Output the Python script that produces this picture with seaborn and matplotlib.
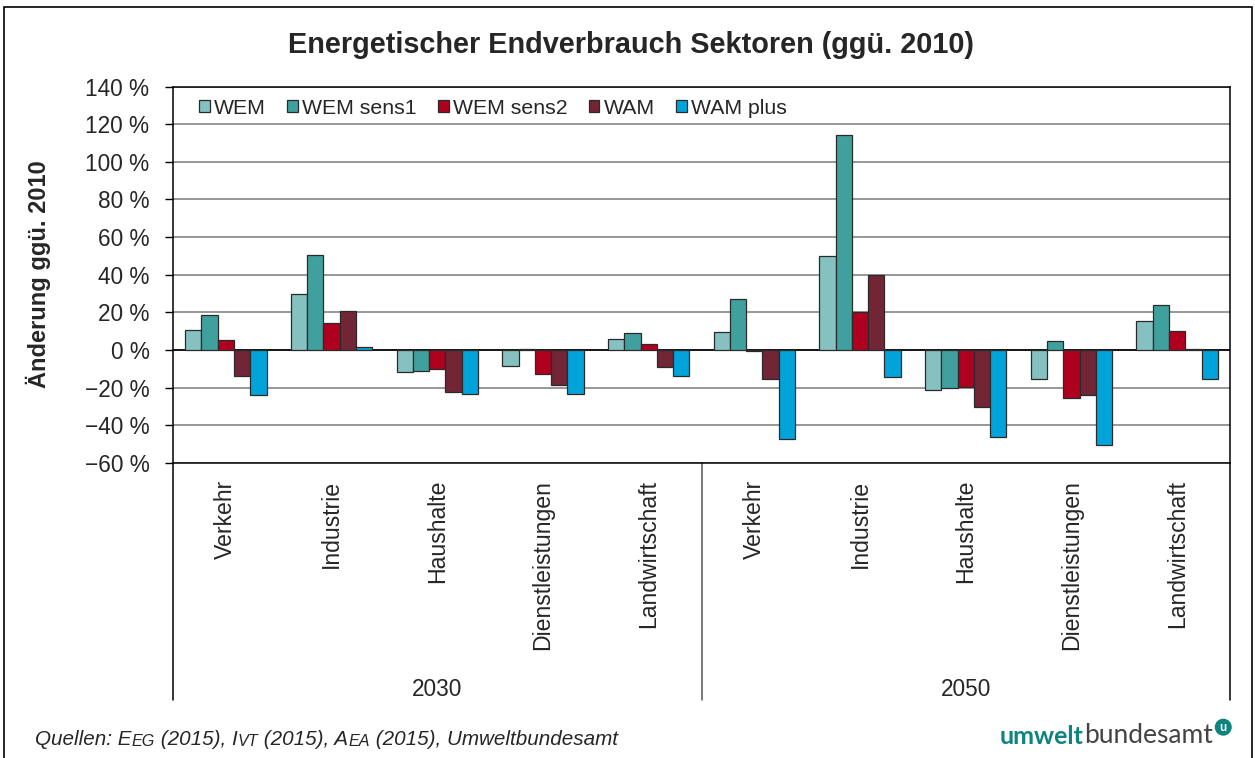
import numpy as np
import pandas as pd
import matplotlib
matplotlib.use("Agg")
import matplotlib.pyplot as plt
import matplotlib.transforms as mtransforms
from matplotlib.patches import Patch, Rectangle
import seaborn as sns

# ---------------- data ----------------
years = ["2030", "2050"]
sectors = ["Verkehr", "Industrie", "Haushalte", "Dienstleistungen", "Landwirtschaft"]
scenarios = ["WEM", "WEM sens1", "WEM sens2", "WAM", "WAM plus"]

wem_2030 = [10.8, 30.0, -11.7, -8.3, 5.8]
wem_sens1_2030 = [18.6, 50.4, -11.3, 0.3, 9.2]
wem_sens2_2030 = [5.3, 14.2, -10.3, -12.6, 3.4]
wam_2030 = [-14.0, 20.7, -22.1, -18.8, -9.0]
wam_plus_2030 = [-23.8, 1.6, -23.2, -23.2, -13.6]

wem_2050 = [9.6, 49.7, -21.2, -15.2, 15.6]
wem_sens1_2050 = [26.9, 114.5, -20.0, 4.6, 23.9]
wem_sens2_2050 = [-0.3, 20.0, -19.8, -25.5, 10.1]
wam_2050 = [-15.6, 40.0, -30.4, -24.1, 0.5]
wam_plus_2050 = [-47.1, -14.3, -46.0, -50.4, -15.4]

y_ticks = [-60, -40, -20, 0, 20, 40, 60, 80, 100, 120, 140]

colors = ["#85C1C0", "#40A09E", "#B00020", "#722535", "#00A4DB"]

# ---------------- frame ----------------
series_2030 = [wem_2030, wem_sens1_2030, wem_sens2_2030, wam_2030, wam_plus_2030]
series_2050 = [wem_2050, wem_sens1_2050, wem_sens2_2050, wam_2050, wam_plus_2050]
rows = []
for yr, series in zip(years, [series_2030, series_2050]):
    for scen, vals in zip(scenarios, series):
        for sec, v in zip(sectors, vals):
            rows.append({"cat": f"{yr} {sec}", "scenario": scen, "value": v})
df = pd.DataFrame(rows)
cat_order = [f"{yr} {sec}" for yr in years for sec in sectors]

sns.set_theme(style="white")
plt.rcParams["font.family"] = ["Liberation Sans", "DejaVu Sans"]

W, H = 1255, 758
fig = plt.figure(figsize=(W / 100, H / 100), dpi=100)
L, R, T, B = 173, 1230, 86.5, 463
ax = fig.add_axes([L / W, 1 - B / H, (R - L) / W, (B - T) / H])

sns.barplot(data=df, x="cat", y="value", hue="scenario", order=cat_order,
            hue_order=scenarios, palette=colors, width=0.77, saturation=1,
            edgecolor="#2a2a2a", linewidth=0.9, ax=ax, legend=False, zorder=2)

ax.set_ylim(-60, 140)
ax.set_xlim(-0.5, 9.5)
ax.set_yticks(y_ticks)
ax.set_yticklabels([f"{v} %".replace("-", "\u2212") for v in y_ticks], fontsize=16.3)
ax.set_xticks(range(len(cat_order)))
ax.set_xticklabels(sectors * 2, rotation=90, fontsize=16.6)
ax.tick_params(axis="x", length=0, pad=12)
ax.tick_params(axis="y", direction="out", length=6, width=1, color="black", pad=11, left=True)
ax.set_xlabel("")
ax.set_ylabel("")

ax.yaxis.grid(True, color="#858585", lw=1.2)
ax.set_axisbelow(True)
ax.axhline(0, color="black", lw=1.2, zorder=1)
for s in ax.spines.values():
    s.set_color("black")
    s.set_linewidth(1.1)

# category axis dividers and year labels
tr = mtransforms.blended_transform_factory(ax.transData, ax.transAxes)
ybot = -(700 - B) / (B - T)
for xv, col in [(-0.5, "black"), (4.5, "#555555"), (9.5, "black")]:
    ax.plot([xv, xv], [0, ybot], color=col, lw=1.1, transform=tr, clip_on=False)
yyear = -(689 - B) / (B - T)
ax.text(2, yyear, "2030", transform=tr, ha="center", va="center", fontsize=16.3)
ax.text(7, yyear, "2050", transform=tr, ha="center", va="center", fontsize=16.3)

# legend
handles = [Patch(facecolor=c, edgecolor="#2a2a2a", lw=0.9) for c in colors]
ax.legend(handles, scenarios, ncol=5, loc="center left",
          bbox_to_anchor=(0.025, 1 - (108 - T) / (B - T)), frameon=False,
          fontsize=15.3, handlelength=0.5, handleheight=0.5, handletextpad=0.2,
          columnspacing=1.0, borderpad=0, borderaxespad=0)

# titles
fig.text(631 / W, 1 - 45 / H, "Energetischer Endverbrauch Sektoren (ggü. 2010)",
         ha="center", va="center", fontsize=20.8, fontweight="bold")
fig.text(38 / W, 1 - 274 / H, "Änderung ggü. 2010", rotation=90,
         ha="center", va="center", fontsize=17, fontweight="bold")

# footer with small caps
pieces = [("Quellen: E", 14.9), ("EG", 11.6), (" (2015), I", 14.9), ("VT", 11.6),
          (" (2015), A", 14.9), ("EA", 11.6), (" (2015), Umweltbundesamt", 14.9)]
prev = fig.text(35 / W, 1 - 745 / H, pieces[0][0], fontsize=pieces[0][1],
                style="italic", ha="left", va="baseline")
for txt, fs in pieces[1:]:
    prev = ax.annotate(txt, xy=(1, 0), xycoords=prev, fontsize=fs, style="italic",
                       ha="left", va="bottom", annotation_clip=False)

# logo
teal = "#0E8480"
t1 = fig.text(1000 / W, 1 - 744 / H, "umwelt", fontsize=18, fontweight="bold",
              color=teal, family=["Lato", "DejaVu Sans"], ha="left", va="baseline")
t2 = ax.annotate("bundesamt", xy=(1, 0), xycoords=t1, fontsize=19, fontweight="normal",
                 color="#444444", family=["Lato", "DejaVu Sans"], ha="left", va="bottom",
                 annotation_clip=False)
ax.annotate("u", xy=(1, 1), xycoords=t2, xytext=(5, -3), textcoords="offset points",
            fontsize=9, fontweight="bold", color="white", ha="left", va="center",
            family=["Lato", "DejaVu Sans"], annotation_clip=False,
            bbox=dict(boxstyle="circle,pad=0.2", fc=teal, ec="none"))

# outer border
fig.patches.append(Rectangle((4 / W, -0.02), (1252 - 4) / W, 1 - 7 / H + 0.02,
                             transform=fig.transFigure, fill=False, ec="black", lw=1.2))

fig.savefig("out.png", dpi=100)
